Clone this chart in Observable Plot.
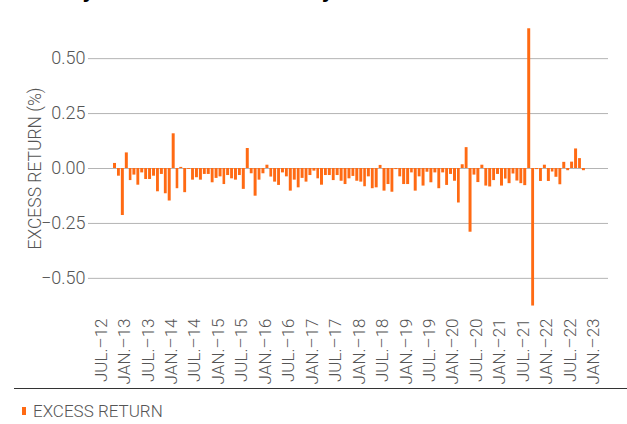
<!DOCTYPE html>
<html><head><meta charset="utf-8">
<script src="https://cdn.jsdelivr.net/npm/d3@7"></script>
<script src="https://cdn.jsdelivr.net/npm/@observablehq/plot@0.6"></script>
<style>
body{margin:0;background:#fff;}
#wrap{position:relative;width:627px;height:424px;overflow:hidden;font-family:Roboto,"Liberation Sans",sans-serif;font-weight:300;color:#555;}
#title{position:absolute;left:14px;top:-19px;font:bold 21px "Liberation Sans",Arial,sans-serif;color:#000;line-height:20px;white-space:nowrap;}
#chart{position:absolute;left:0;top:0;}
#rule{position:absolute;left:14px;top:388px;width:613px;height:1px;background:#333;}
#legend{position:absolute;left:22px;top:401px;display:flex;align-items:center;font-size:17px;color:#555;}
#legend .sw{width:4px;height:8px;background:#ff6a13;margin-right:7px;}
</style></head><body>
<div id="wrap">
<div id="title">Monthly excess return over 10 years</div>
<div id="chart"></div>
<div id="rule"></div>
<div id="legend"><span class="sw"></span><span>EXCESS RETURN</span></div>
</div>
<script>
const firstMonth = "2012-10-01";
const excessReturn = [
 0.023,-0.035,-0.214,0.071,-0.055,-0.030,-0.076,-0.020,-0.050,-0.050,
 -0.035,-0.106,-0.027,-0.115,-0.148,0.158,-0.092,0.005,-0.110,-0.004,
 -0.053,-0.042,-0.053,-0.027,-0.027,-0.065,-0.045,-0.038,-0.073,-0.032,
 -0.047,-0.053,-0.032,-0.095,0.091,-0.024,-0.126,-0.053,-0.024,0.015,
 -0.039,-0.062,-0.077,-0.020,-0.038,-0.103,-0.053,-0.088,-0.045,-0.062,
 -0.032,-0.012,-0.047,-0.076,-0.032,-0.032,-0.055,-0.032,-0.058,-0.073,
 -0.047,-0.036,-0.058,-0.062,-0.083,-0.038,-0.092,-0.088,0.014,-0.103,
 -0.073,-0.108,-0.005,-0.038,-0.073,-0.073,-0.020,-0.103,-0.038,-0.080,
 -0.017,-0.065,-0.020,-0.092,-0.020,-0.077,-0.027,-0.058,-0.157,0.017,
 0.095,-0.290,-0.030,-0.064,0.015,-0.080,-0.084,-0.055,-0.027,-0.080,
 -0.048,-0.069,-0.025,-0.057,-0.069,-0.078,0.636,-0.626,-0.005,-0.059,
 0.015,-0.059,-0.016,-0.040,-0.074,0.028,-0.010,0.029,0.089,0.045,
 -0.010
];
const tickDates = ["2012-07-01","2013-01-01","2013-07-01","2014-01-01","2014-07-01","2015-01-01",
 "2015-07-01","2016-01-01","2016-07-01","2017-01-01","2017-07-01","2018-01-01","2018-07-01",
 "2019-01-01","2019-07-01","2020-01-01","2020-07-01","2021-01-01","2021-07-01","2022-01-01",
 "2022-07-01","2023-01-01"];
const tickLabels = ["JUL.–12","JAN.–13","JUL.–13","JAN.–14","JUL.–14","JAN.–15","JUL.–15",
 "JAN.–16","JUL.–16","JAN.–17","JUL.–17","JAN.–18","JUL.–18","JAN.–19","JUL.–19","JAN.–20",
 "JUL.–20","JAN.–21","JUL.–21","JAN.–22","JUL.–22","JAN.–23"];
const yTicks = [-0.5, -0.25, 0, 0.25, 0.5];
const yLabel = "EXCESS RETURN (%)";

const start = new Date(firstMonth + "T00:00:00Z");
const data = excessReturn.map((v, i) => ({date: d3.utcMonth.offset(start, i), value: v}));
const tickDateObjs = tickDates.map(d => new Date(d + "T00:00:00Z"));
const labelFor = new Map(tickDateObjs.map((d, i) => [+d, tickLabels[i]]));
const orange = "#ff6a13";
const fontFam = 'Roboto,"Liberation Sans",sans-serif';

const chart = Plot.plot({
  width: 627, height: 388,
  marginTop: 23, marginBottom: 75, marginLeft: 88, marginRight: 19,
  style: {fontFamily: fontFam, fontSize: "18px", fontWeight: 300, color: "#555", background: "transparent"},
  x: {type: "utc", domain: [new Date("2012-03-24T00:00:00Z"), new Date("2023-04-26T00:00:00Z")]},
  y: {domain: [-0.66, 0.66]},
  marks: [
    Plot.gridY(yTicks, {stroke: "#b4b4b4", strokeOpacity: 1}),
    Plot.rectY(data, {x: "date", y: "value", interval: "month", fill: orange, insetLeft: 0.5, insetRight: 0.5}),
    Plot.axisX(tickDateObjs, {tickSize: 0, tickPadding: 5, tickRotate: -90, fontSize: 17, tickFormat: d => labelFor.get(+d), label: null}),
    Plot.axisY(yTicks, {tickSize: 0, tickPadding: 3, fontSize: 18, tickFormat: d3.format(".2f"), label: null}),
    Plot.text([yLabel], {frameAnchor: "left", textAnchor: "middle", dx: -53, rotate: -90, fill: "#555", fontSize: 17.5})
  ]
});
document.getElementById("chart").appendChild(chart);
</script>
</body></html>
